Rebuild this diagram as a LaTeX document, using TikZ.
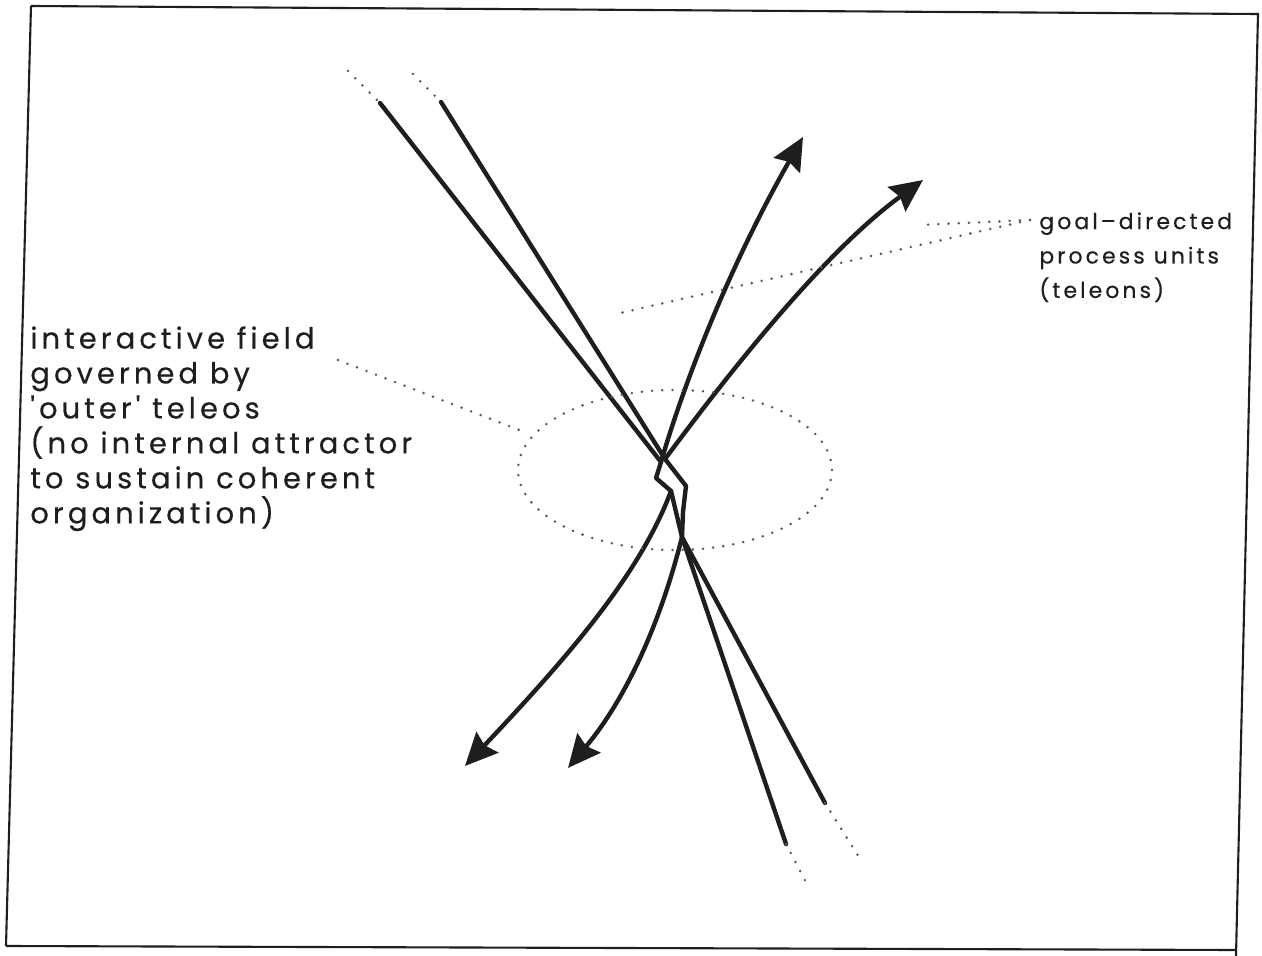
\documentclass[tikz,border=0pt]{standalone}
\usepackage{fontspec}
\setmainfont{Poppins}
\newfontfamily\lblfont{Poppins}[LetterSpace=14,FakeBold=0.4]
\usetikzlibrary{arrows.meta}
\definecolor{ink}{RGB}{30,30,30}
\definecolor{dotc}{RGB}{90,90,90}
\begin{document}
\begin{tikzpicture}[x={(0.02cm,0)},y={(0,-0.02cm)},
  stroke/.style={line width=2.5pt, draw=ink, line join=round, line cap=round},
  arr/.style={stroke, -{Stealth[length=6.5mm,width=6mm,inset=0.8mm]}},
  dots/.style={draw=dotc, line width=1.6pt, line cap=round, dash pattern=on 0pt off 5.8pt},
  frame/.style={line width=1.2pt, draw=ink},
  lbl/.style={text=ink, align=left, inner sep=0pt}
]
\useasboundingbox (0,0) rectangle (1262,956);
\fill[white] (0,0) rectangle (1262,956);
% frame
\draw[frame] (31,6) -- (1258,14) -- (1236,956) (6,946) -- (1236,950) (6,946) -- (31,6);

% labels
\node[lbl, font=\lblfont\fontsize{16.5}{19.9}\selectfont, anchor=north west] (field) at (30,326) {interactive field\\governed by\\'outer' teleos\\(no internal attractor\\to sustain coherent\\organization)};
\node[lbl, font=\lblfont\fontsize{12.5}{19.6}\selectfont, anchor=north west] (teleons) at (1039,212) {goal–directed\\process units\\(teleons)};

% key points
\coordinate (a0) at (348,71);
\coordinate (a1) at (380,103);
\coordinate (b0) at (413,74);
\coordinate (b1) at (441,102);
\coordinate (ca) at (661,462);
\coordinate (cb) at (665,459);
\coordinate (d1) at (656,478);
\coordinate (d2) at (671,491);
\coordinate (z1) at (686,486);
\coordinate (z2) at (683,512);
\coordinate (x) at (682,537);
\coordinate (a2) at (825,803);
\coordinate (a3) at (862,862);
\coordinate (b2) at (786,844);
\coordinate (b3) at (808,886);
\coordinate (t1) at (803,137);
\coordinate (t2) at (923,180);
\coordinate (l1) at (465,766);
\coordinate (l2) at (568,768);

% straight process lines
\draw[stroke] (a1) -- (ca) -- (d1) -- (d2) -- (x) -- (a2);
\draw[stroke] (b1) -- (cb) -- (z1) -- (z2) -- (x) -- (b2);
\draw[dots] (a0) -- (a1);
\draw[dots] (b0) -- (b1);
\draw[dots] (a2) -- (a3);
\draw[dots] (b2) -- (b3);

% curved teleons
\draw[arr] (ca) .. controls (685,380) and (730,265) .. (t1);
\draw[arr] (cb) .. controls (720,385) and (820,255) .. (t2);
\draw[arr] (d2) .. controls (640,575) and (565,660) .. (l1);
\draw[arr] (x) .. controls (660,625) and (625,700) .. (l2);

% interactive field
\coordinate (fc) at (675,470);
\draw[dots] (fc) ellipse [x radius=3.14cm, y radius=1.6cm];
\coordinate (fe) at (527,433);
\coordinate (fs) at (338,360);
\draw[dots] (fs) -- (fe);

% teleon leaders
\coordinate (ts) at (1030,220);
\coordinate (tu) at (920,225);
\coordinate (tl) at (620,313);
\draw[dots] (ts) -- (tu);
\draw[dots] (ts) -- (tl);
\end{tikzpicture}
\end{document}
